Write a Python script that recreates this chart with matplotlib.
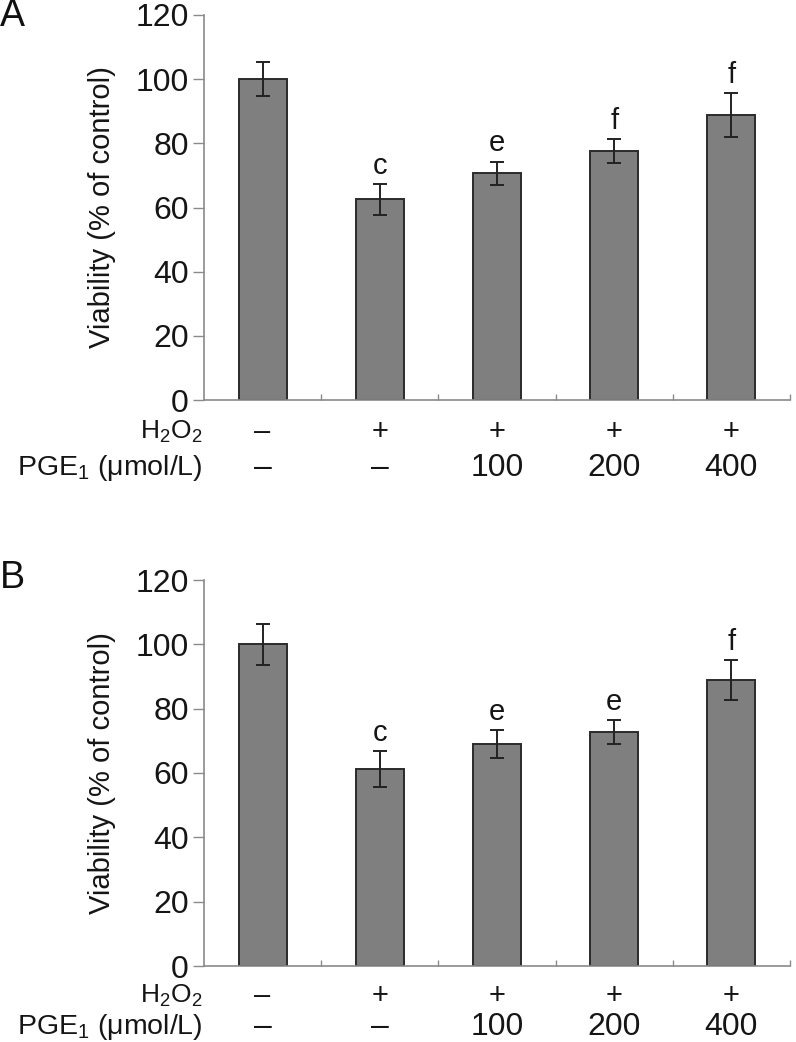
import matplotlib
matplotlib.use("Agg")
import matplotlib.pyplot as plt
import matplotlib.transforms as mtransforms

plt.rcParams['font.family'] = ['Liberation Sans', 'DejaVu Sans']
plt.rcParams['mathtext.default'] = 'regular'

# ---- data ----
h2o2_labels = ['–', '+', '+', '+', '+']
pge1_labels = ['–', '–', '100', '200', '400']

viab_A = [100.0, 62.5, 70.6, 77.6, 88.8]
err_A = [5.3, 4.9, 3.7, 3.7, 6.8]
sig_A = ['', 'c', 'e', 'f', 'f']

viab_B = [100.0, 61.3, 69.0, 72.7, 88.9]
err_B = [6.4, 5.5, 4.3, 3.7, 6.3]
sig_B = ['', 'c', 'e', 'e', 'f']

yticks = [0, 20, 40, 60, 80, 100, 120]
panel_letters = ['A', 'B']

W, H = 796, 1042
fig = plt.figure(figsize=(W / 100, H / 100), dpi=100)

axis_gray = '#8a8a8a'
bar_color = '#7f7f7f'
edge_color = '#2b2b2b'
txt = '#151515'


def make_panel(rect, vals, errs, sigs, letter, letter_xy, rows_px):
    ax = fig.add_axes(rect)
    x = list(range(len(vals)))
    ax.bar(x, vals, width=0.41, color=bar_color, edgecolor=edge_color,
           linewidth=1.4, zorder=2)
    ax.errorbar(x, vals, yerr=errs, fmt='none', ecolor='#222222',
                elinewidth=1.4, capsize=5, capthick=1.4, zorder=3)
    for xi, v, e, s in zip(x, vals, errs, sigs):
        if s:
            ax.annotate(s, (xi, v + e), xytext=(0, 3), textcoords='offset points',
                        ha='center', va='bottom', fontsize=21, color=txt)
    ax.set_xlim(-0.5, len(vals) - 0.5)
    ax.set_ylim(0, 120)
    ax.set_yticks(yticks)
    ax.set_yticklabels([str(t) for t in yticks], fontsize=23, color=txt)
    ax.tick_params(axis='y', direction='out', length=8, width=1, color=axis_gray, pad=3)
    ax.set_xticks([i + 0.5 for i in range(len(vals))])
    ax.set_xticklabels([])
    ax.tick_params(axis='x', direction='in', length=4, width=1, color=axis_gray)
    for side in ['top', 'right']:
        ax.spines[side].set_visible(False)
    for side in ['left', 'bottom']:
        ax.spines[side].set_color(axis_gray)
        ax.spines[side].set_linewidth(1.2)
    ax.set_ylabel('Viability (% of control)', fontsize=21, color=txt,
                  va='center')
    ax.yaxis.set_label_coords(-0.174, 0.5)

    # row labels under the axis
    trans = mtransforms.blended_transform_factory(ax.transData, ax.transAxes)
    ax_h_px = rect[3] * H
    r1 = -rows_px[0] / ax_h_px
    r2 = -rows_px[1] / ax_h_px
    ax.text(-0.003, r1, 'H$_2$O$_2$', transform=ax.transAxes, ha='right', va='center',
            fontsize=19, color=txt)
    ax.text(-0.003, r2, 'PGE$_1$ (μmol/L)', transform=ax.transAxes, ha='right', va='center',
            fontsize=20.5, color=txt)
    for xi, a, b in zip(x, h2o2_labels, pge1_labels):
        ax.text(xi, r1, a, transform=trans, ha='center', va='center', fontsize=21,
                color=txt)
        ax.text(xi, r2, b, transform=trans, ha='center', va='center', fontsize=23,
                color=txt)
    fig.text(letter_xy[0] / W, 1 - letter_xy[1] / H, letter, fontsize=27,
             ha='left', va='center', color='#111111')
    return ax


left = 204 / W
width = (790 - 204) / W
make_panel([left, 1 - 400 / H, width, 385 / H], viab_A, err_A, sig_A,
           panel_letters[0], (0, 16), (32, 68))
make_panel([left, 1 - 966 / H, width, 386 / H], viab_B, err_B, sig_B,
           panel_letters[1], (0, 578), (30, 61))

fig.savefig('out.png', dpi=100)
